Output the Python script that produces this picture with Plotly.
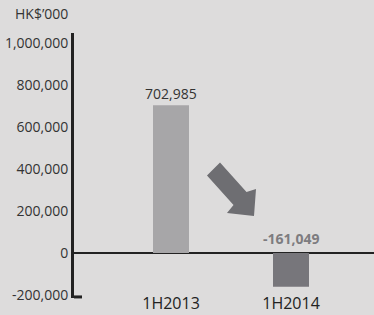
import plotly.graph_objects as go

categories = ["1H2013", "1H2014"]
values = [702985, -161049]
bar_colors = ["#a7a6a8", "#77767b"]
tick_vals = [-200000, 0, 200000, 400000, 600000, 800000, 1000000]
tick_text = [f"{v:,}" for v in tick_vals]
unit_label = "HK$\u2019000"

W, H = 374, 315
ML, MR, MT, MB = 74, 0, 33, 17
PW, PH = W - ML - MR, H - MT - MB

fig = go.Figure()
fig.add_trace(go.Bar(
    x=categories, y=values, width=0.3,
    marker=dict(color=bar_colors, line=dict(width=0)),
    hoverinfo="skip",
))

# value labels
fig.add_annotation(x=categories[0], y=values[0], text=f"{values[0]:,}",
                   showarrow=False, yanchor="bottom", yshift=0,
                   font=dict(family="Open Sans", size=14, color="#333333"))
fig.add_annotation(x=categories[1], y=0, text=f"<b>{values[1]:,}</b>",
                   showarrow=False, yanchor="bottom", yshift=3,
                   font=dict(family="Open Sans", size=14, color="#7d7c80"))

# unit label
fig.add_annotation(xref="paper", yref="paper", x=-4 / PW, y=1 + 20 / PH,
                   text=unit_label, showarrow=False, xanchor="right", yanchor="middle",
                   font=dict(family="Open Sans", size=14, color="#333333"))

# decorative arrow (paper px converted)
def px(xp, yp):
    return (xp - ML) / PW, (H - MB - yp) / PH

pts = [(207, 175.5), (220, 162.5), (246.5, 192), (256, 189), (254, 216), (227, 213), (233.5, 205)]
path = "M " + " L ".join(f"{px(a, b)[0]:.4f},{px(a, b)[1]:.4f}" for a, b in pts) + " Z"
fig.add_shape(type="path", xref="paper", yref="paper", path=path,
              fillcolor="#6e6e72", line=dict(width=0))

# bottom axis foot
fig.add_shape(type="line", xref="paper", yref="paper", x0=0, x1=8 / PW, y0=0.004, y1=0.004,
              line=dict(color="#222222", width=3))

fig.update_layout(
    width=W, height=H, template="none",
    margin=dict(l=ML, r=MR, t=MT, b=MB, pad=0),
    paper_bgcolor="#dddcdc", plot_bgcolor="#dddcdc",
    showlegend=False,
    xaxis=dict(range=[-97 / 120, 203 / 120], showgrid=False, zeroline=False, showline=False,
               ticks="", ticklen=0, automargin=False, anchor="free", position=6 / PH,
               tickfont=dict(family="Open Sans", size=16, color="#222222")),
    yaxis=dict(range=[-214300, 1047600], tickvals=tick_vals, ticktext=tick_text,
               showgrid=False, zeroline=True, zerolinecolor="#222222", zerolinewidth=2,
               showline=True, linecolor="#222222", linewidth=3, ticks="", automargin=False,
               tickfont=dict(family="Open Sans", size=14, color="#333333")),
)

fig.write_html("out.html", config={"displayModeBar": False},
               post_script="document.body.style.margin='0';document.body.style.background='#dddcdc';")
